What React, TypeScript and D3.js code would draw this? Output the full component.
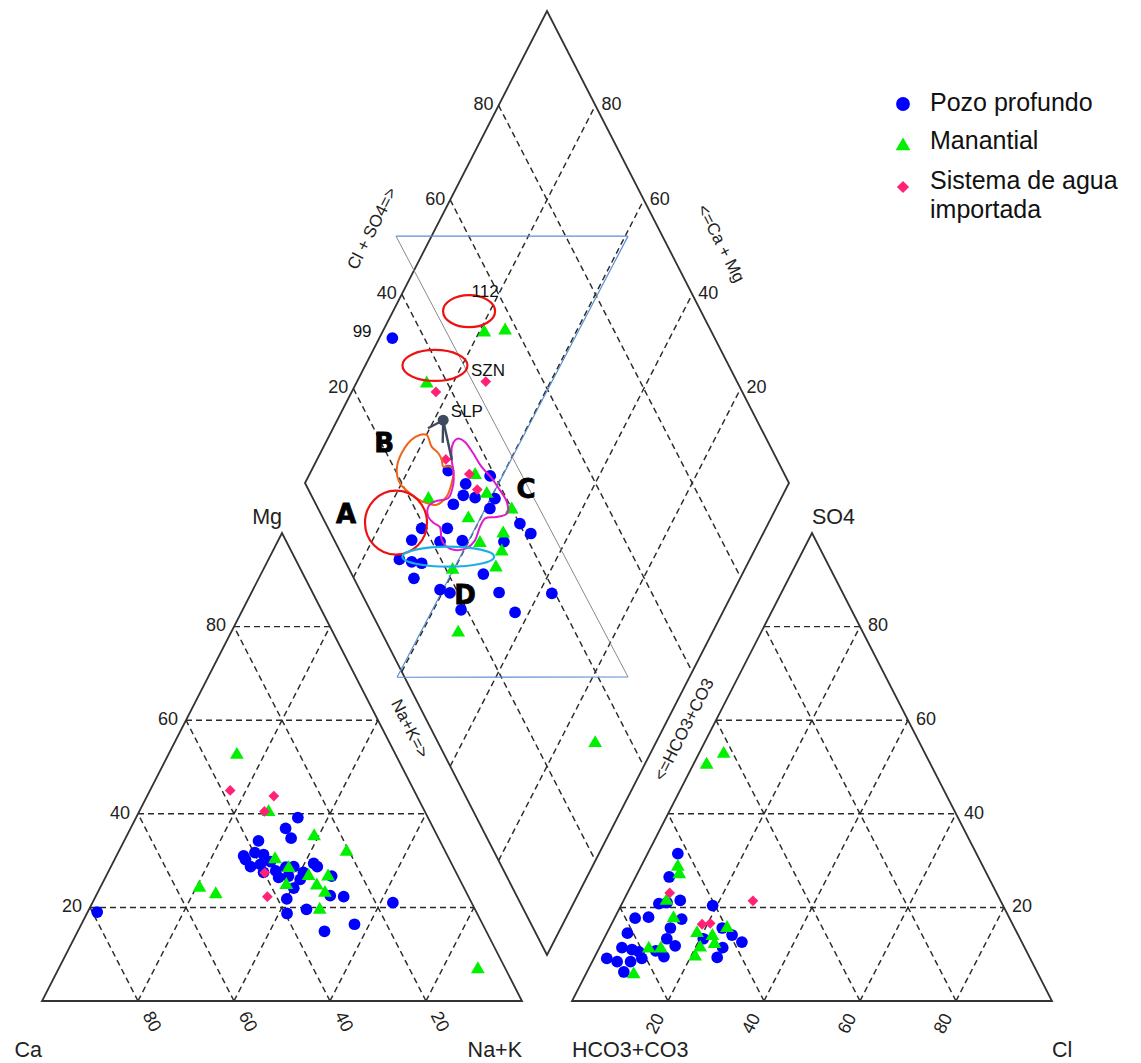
import React, { useEffect, useRef } from 'react';
import * as d3 from 'd3';

const width = 1141;
const height = 1063;

const ticks = [20, 40, 60, 80];

// cation triangle points: [Na+K %, Mg %]
const cationPozo = [
  [2, 19], [33.7, 39.2], [32.3, 36.9], [34.5, 34.8], [28, 34.2], [27.3, 30.2], [28.5, 31.7],
  [30.5, 31.3], [29.1, 28.7], [30.9, 29.2], [32.7, 29.8], [36.1, 26.4], [38.1, 28.7], [38, 26.7],
  [40.7, 27.5], [41.9, 29.4], [43, 28.7], [40.4, 24.1], [40.1, 21.8], [47, 26.7], [48.8, 22.5],
  [51.7, 22.3], [41.7, 18.7], [45.3, 19.6], [51.4, 14.9], [56.9, 16.4], [62.6, 21], [32.4, 27.5],
  [40.8, 26], [26.5, 31], [34.8, 27.8], [36.5, 28.6]
];
const cationManantial = [
  [14.3, 52.6], [39.1, 35.2], [47.5, 31.9], [33.4, 30.3], [37.2, 28.4], [42.2, 26.7], [46.3, 26.6],
  [38.5, 24.8], [44.9, 24.7], [47.4, 23.1], [20.7, 24.2], [24.8, 22.8], [48.1, 19.5], [27, 40.4],
  [87.4, 6.8]
];
const cationImportada = [[16.7, 45], [26.4, 43.8], [26.1, 40.5], [32.7, 27.4], [35.8, 22.3]];

// anion triangle points: [Cl %, SO4 %]
const anionPozo = [
  [6.3, 31.5], [7, 26.5], [7.7, 20.8], [9.3, 21], [11.8, 21.5], [19.1, 20.4], [4.3, 17.7], [7, 17.9],
  [14.1, 17.5], [4.3, 14.5], [12.7, 15.6], [13.1, 13.3], [15.6, 11.8], [4.7, 11.4], [7, 11], [8.7, 10.5],
  [2.7, 9.1], [5.2, 8.4], [8, 8.4], [7.7, 6.2], [10, 9.1], [14.4, 9.5], [12.1, 10.7], [23.5, 15.6],
  [26.3, 14.1], [29.1, 12.6], [20.7, 13.3], [25.7, 11.4], [25.6, 9.3]
];
const anionManantial = [
  [5.2, 52.8], [2.8, 50.5], [7.7, 28.7], [8.8, 27.1], [9, 21.4], [12.3, 17.7], [10.4, 11.2],
  [12.9, 11.2], [10, 5.7], [18.8, 14.5], [22.3, 13.9], [23.6, 12.2], [21, 11.4], [20.9, 9.5], [24.5, 15.6]
];
const anionImportada = [[8.8, 23.1], [27, 21.4], [18.9, 16.4], [20.5, 16.6]];

// diamond points: [Na+K %, Cl+SO4 %]
const diamondPozo = [
  [2.7, 33.4], [28.3, 30.9], [37.5, 39], [33.3, 33.1], [34, 31.4], [36.7, 33.6], [32.9, 28.4],
  [40.9, 37.6], [40.9, 35.5], [28.9, 19.3], [28.1, 16], [34.2, 24.6], [34.1, 21.7], [38.6, 26.4],
  [48.7, 40.1], [52, 41.3], [47.3, 34.9], [27.6, 11.4], [30.4, 13.7], [32.6, 15.6], [32.6, 12.4],
  [46.5, 27.2], [39.2, 16.6], [41.6, 18.3], [51.7, 28.5], [62.7, 39.3], [45.7, 18.8], [57.1, 29.7]
];
const diamondManantial = [
  [21.1, 53], [25.2, 57.5], [14.6, 35.7], [34.3, 36], [38.7, 36.4], [27.2, 23.8], [45.5, 39.9],
  [37.5, 30], [46.3, 35.6], [42.5, 29.8], [47.9, 33.4], [48.4, 30.5], [39.7, 21.3], [47.5, 15.8],
  [87.5, 32.4]
];
const diamondImportada = [[17.4, 36.7], [26.6, 48.1], [26.6, 31.6], [33, 34.9], [36.3, 34.9]];

// hand drawn zones on the diamond, in [Na+K, Cl+SO4]
const zoneB = [
  [20, 30.2], [17.9, 27.6], [16.8, 23.1], [17.6, 20.3], [19.7, 19.6], [22.8, 20.6], [26.4, 22.4],
  [29.5, 24.9], [30.7, 27.8], [30.3, 30.3], [29.3, 32], [28.2, 31.7], [26.8, 30.3], [25.8, 30.7],
  [24.4, 30.7], [22.3, 30]
];
const zoneC = [
  [27.2, 36.6], [28.7, 37.4], [31.6, 37.9], [34.8, 38.2], [38.1, 39.1], [41, 39.5], [43.7, 39.7],
  [45, 38.6], [43.2, 36], [41, 33.5], [40.8, 31.5], [41.2, 29], [40.3, 26.5], [38.1, 23.9], [36, 22.5],
  [34.3, 22.2], [32.5, 23.2], [30.7, 22.3], [29, 21.9], [28, 23], [28.8, 24.9], [31.2, 28], [30.7, 30.6],
  [29.3, 32], [28.1, 32.6], [26.5, 34.2], [26.5, 35.6]
];
const ellipses = [
  { c: [15.7, 52.1], rx: 26, ry: 16, color: '#ee1111' },
  { c: [14.4, 39.3], rx: 32.5, ry: 15.5, color: '#ee1111' },
  { c: [23, 14.6], rx: 31, ry: 32, color: '#ee1111' },
  { c: [37.4, 21.8], rx: 46, ry: 10, color: '#1eaee6' }
];
const zoneLetters = [
  { t: 'A', p: [11.9, 5.1] }, { t: 'B', p: [12.3, 20.4] }, { t: 'C', p: [46.4, 44.9] }, { t: 'D', p: [45.1, 21] }
];
const sampleLabels = [
  { t: '112', p: [17, 57.4] }, { t: 'SZN', p: [26, 49.6] }, { t: '99', p: [-4.1, 27.7] }, { t: 'SLP', p: [26, 40.9] }
];
const pin = { head: [21.9, 35.2], ends: [[27.9, 32.8], [24.2, 32.7], [19.6, 31.2]] };
const guideBlue = [[[-7.35, 44.95], [40.6, 92.9]], [[40.6, 92.9], [39.6, -1.55]], [[39.6, -1.55], [87.3, 46.2]]];
const guideGray = [[-7.35, 44.95], [87.3, 46.2]];

const legendItems = [
  { label: ['Pozo profundo'], shape: 'circle' },
  { label: ['Manantial'], shape: 'triangle' },
  { label: ['Sistema de agua', 'importada'], shape: 'diamond' }
];

const colors = { circle: '#0000ff', triangle: '#00f000', diamond: '#ff2277' };
const font = "'Liberation Sans', Arial, sans-serif";

const App = () => {
  const svgRef = useRef(null);

  useEffect(() => {
    const svg = d3.select(svgRef.current);
    svg.selectAll('*').remove();

    const yTri = d3.scaleLinear().domain([0, 100]).range([1001, 533]);
    const xCat = d3.scaleLinear().domain([0, 100]).range([42, 522]);
    const xAn = d3.scaleLinear().domain([0, 100]).range([572, 1052]);
    const sumX = d3.scaleLinear().domain([0, 200]).range([305, 789]);
    const difY = d3.scaleLinear().domain([-100, 100]).range([11, 955]);

    const cat = (n, m) => [xCat(n + m / 2), yTri(m)];
    const an = (c, s) => [xAn(c + s / 2), yTri(s)];
    const dia = (n, a) => [sumX(n + a), difY(n - a)];

    const grid = svg.append('g');
    const seg = (p, q) => grid.append('line')
      .attr('x1', p[0]).attr('y1', p[1]).attr('x2', q[0]).attr('y2', q[1])
      .attr('stroke', '#2a2a2a').attr('stroke-width', 1.45).attr('stroke-dasharray', '6,4');

    ticks.forEach(v => {
      seg(cat(0, v), cat(100 - v, v));
      seg(cat(v, 0), cat(v, 100 - v));
      seg(cat(100 - v, 0), cat(0, 100 - v));
      seg(an(0, v), an(100 - v, v));
      seg(an(v, 0), an(v, 100 - v));
      seg(an(100 - v, 0), an(0, 100 - v));
      seg(dia(v, 0), dia(v, 100));
      seg(dia(0, v), dia(100, v));
    });

    const outline = d3.line().curve(d3.curveLinearClosed);
    [
      [cat(0, 0), cat(100, 0), cat(0, 100)],
      [an(0, 0), an(100, 0), an(0, 100)],
      [dia(0, 0), dia(100, 0), dia(100, 100), dia(0, 100)]
    ].forEach(pts => svg.append('path').attr('d', outline(pts))
      .attr('fill', 'none').attr('stroke', '#333').attr('stroke-width', 1.8));

    // guide lines
    guideBlue.forEach(([p, q]) => {
      const a = dia(p[0], p[1]), b = dia(q[0], q[1]);
      svg.append('line').attr('x1', a[0]).attr('y1', a[1]).attr('x2', b[0]).attr('y2', b[1])
        .attr('stroke', '#5b8fd0').attr('stroke-width', 1.2);
    });
    {
      const a = dia(guideGray[0][0], guideGray[0][1]), b = dia(guideGray[1][0], guideGray[1][1]);
      svg.append('line').attr('x1', a[0]).attr('y1', a[1]).attr('x2', b[0]).attr('y2', b[1])
        .attr('stroke', '#8a8a8a').attr('stroke-width', 1);
    }

    // tick labels
    const label = svg.append('g').attr('font-family', font).attr('fill', '#222').attr('font-size', 18);
    ticks.forEach(v => {
      let p = cat(0, v);
      label.append('text').attr('x', p[0] - 8).attr('y', p[1]).attr('text-anchor', 'end')
        .attr('dominant-baseline', 'middle').text(v);
      p = cat(100 - v, 0);
      label.append('text').attr('transform', `translate(${p[0] + 13},${p[1] + 21}) rotate(63)`)
        .attr('text-anchor', 'middle').attr('dominant-baseline', 'middle').text(v);
      p = an(100 - v, v);
      label.append('text').attr('x', p[0] + 8).attr('y', p[1]).attr('dominant-baseline', 'middle').text(v);
      p = an(v, 0);
      label.append('text').attr('transform', `translate(${p[0] - 12},${p[1] + 23}) rotate(-63)`)
        .attr('text-anchor', 'middle').attr('dominant-baseline', 'middle').text(v);
      p = dia(0, v);
      label.append('text').attr('x', p[0] - 5).attr('y', p[1]).attr('text-anchor', 'end')
        .attr('dominant-baseline', 'middle').text(v);
      p = dia(100 - v, 100);
      label.append('text').attr('x', p[0] + 6).attr('y', p[1]).attr('dominant-baseline', 'middle').text(v);
    });

    // axis titles
    const titles = svg.append('g').attr('font-family', font).attr('fill', '#222');
    [
      { t: 'Cl + SO4=>', x: 373, y: 229, r: -63 },
      { t: '<=Ca + Mg', x: 720, y: 244, r: 63 },
      { t: 'Na+K=>', x: 409, y: 729, r: 63 },
      { t: '<=HCO3+CO3', x: 685, y: 730, r: -63 }
    ].forEach(d => titles.append('text')
      .attr('transform', `translate(${d.x},${d.y}) rotate(${d.r})`)
      .attr('text-anchor', 'middle').attr('dominant-baseline', 'middle').attr('font-size', 17).text(d.t));

    const vtx = [
      { t: 'Mg', x: 282, y: 524, a: 'end' }, { t: 'Ca', x: 42, y: 1057, a: 'end' },
      { t: 'Na+K', x: 522, y: 1057, a: 'end' }, { t: 'SO4', x: 812, y: 524, a: 'start' },
      { t: 'HCO3+CO3', x: 572, y: 1057, a: 'start' }, { t: 'Cl', x: 1052, y: 1057, a: 'start' }
    ];
    vtx.forEach(d => titles.append('text').attr('x', d.x).attr('y', d.y).attr('text-anchor', d.a)
      .attr('font-size', 21.5).text(d.t));

    // points
    const sym = {
      circle: d3.symbol().type(d3.symbolCircle).size(108)(),
      triangle: d3.symbol().type(d3.symbolTriangle).size(82)(),
      diamond: d3.symbol().type(d3.symbolSquare).size(58)()
    };
    const drawPts = (data, proj, shape) => {
      svg.append('g').selectAll('path').data(data).enter().append('path')
        .attr('d', sym[shape])
        .attr('transform', d => {
          const p = proj(d[0], d[1]);
          return `translate(${p[0]},${p[1]})${shape === 'diamond' ? ' rotate(45)' : ''}`;
        })
        .attr('fill', colors[shape]);
    };
    drawPts(cationPozo, cat, 'circle');
    drawPts(anionPozo, an, 'circle');
    drawPts(diamondPozo, dia, 'circle');
    drawPts(cationManantial, cat, 'triangle');
    drawPts(anionManantial, an, 'triangle');
    drawPts(diamondManantial, dia, 'triangle');
    drawPts(cationImportada, cat, 'diamond');
    drawPts(anionImportada, an, 'diamond');
    drawPts(diamondImportada, dia, 'diamond');

    // zones
    const smooth = d3.line().curve(d3.curveCatmullRomClosed);
    svg.append('path').attr('d', smooth(zoneB.map(d => dia(d[0], d[1]))))
      .attr('fill', 'none').attr('stroke', '#f06418').attr('stroke-width', 2);
    svg.append('path').attr('d', smooth(zoneC.map(d => dia(d[0], d[1]))))
      .attr('fill', 'none').attr('stroke', '#dd1ccc').attr('stroke-width', 2);
    ellipses.forEach(e => {
      const p = dia(e.c[0], e.c[1]);
      svg.append('ellipse').attr('cx', p[0]).attr('cy', p[1]).attr('rx', e.rx).attr('ry', e.ry)
        .attr('fill', 'none').attr('stroke', e.color).attr('stroke-width', 2.2);
    });

    // SLP pin
    const h = dia(pin.head[0], pin.head[1]);
    pin.ends.forEach(e => {
      const q = dia(e[0], e[1]);
      svg.append('line').attr('x1', h[0]).attr('y1', h[1]).attr('x2', q[0]).attr('y2', q[1])
        .attr('stroke', '#3d4a5e').attr('stroke-width', 2.4);
    });
    svg.append('circle').attr('cx', h[0]).attr('cy', h[1]).attr('r', 5.5).attr('fill', '#3d4a5e');

    sampleLabels.forEach(d => {
      const p = dia(d.p[0], d.p[1]);
      svg.append('text').attr('x', p[0]).attr('y', p[1]).attr('text-anchor', 'middle')
        .attr('dominant-baseline', 'middle').attr('font-family', font).attr('font-size', 17)
        .attr('fill', '#111').text(d.t);
    });
    zoneLetters.forEach(d => {
      const p = dia(d.p[0], d.p[1]);
      svg.append('text').attr('x', p[0]).attr('y', p[1]).attr('text-anchor', 'middle')
        .attr('dominant-baseline', 'middle').attr('font-family', "'DejaVu Sans', sans-serif")
        .attr('font-weight', 900).attr('font-size', 26).attr('fill', '#000')
        .attr('stroke', '#000').attr('stroke-width', 0.8).text(d.t);
    });

    // legend
    const lg = svg.append('g').attr('font-family', font).attr('font-size', 25).attr('fill', '#111');
    const legendY = [104, 146, 187];
    const textY = [111, 149, 189];
    legendItems.forEach((d, i) => {
      lg.append('path')
        .attr('d', d3.symbol().type(d.shape === 'circle' ? d3.symbolCircle : d.shape === 'triangle' ? d3.symbolTriangle : d3.symbolSquare)
          .size(d.shape === 'circle' ? 150 : d.shape === 'triangle' ? 95 : 75)())
        .attr('transform', `translate(903,${legendY[i]})${d.shape === 'diamond' ? ' rotate(45)' : ''}`)
        .attr('fill', colors[d.shape]);
      d.label.forEach((t, j) => lg.append('text').attr('x', 930).attr('y', textY[i] + j * 29).text(t));
    });
  }, []);

  return (
    <svg ref={svgRef} width={width} height={height}
      style={{ position: 'absolute', left: 0, top: 0, background: '#fff', display: 'block' }} />
  );
};

export default App;
